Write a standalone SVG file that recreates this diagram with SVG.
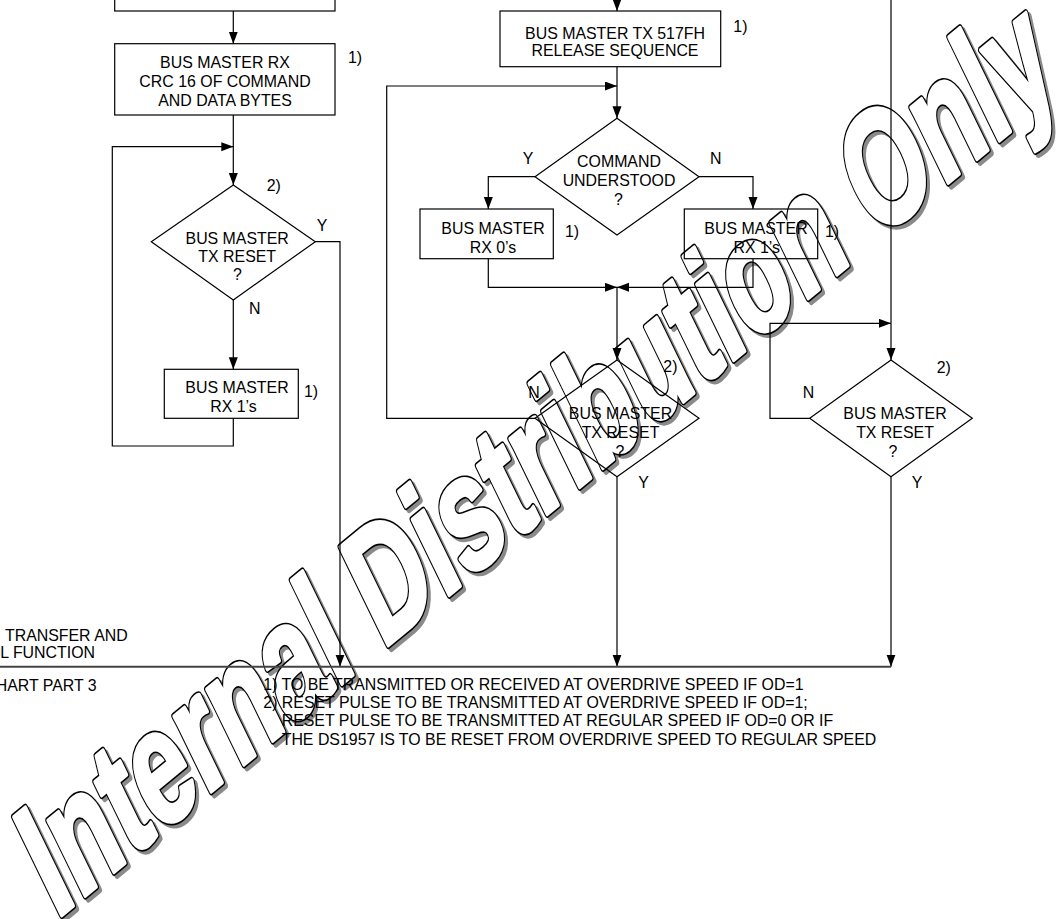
<svg xmlns="http://www.w3.org/2000/svg" width="1062" height="919" viewBox="0 0 1062 919">
<style>
.t{font-family:"Liberation Sans",Arial,sans-serif;font-size:15.9px;fill:#000}
.m{text-anchor:middle}
.e{text-anchor:end}
.s{fill:none;stroke:#000;stroke-width:1.2}
.c{fill:none;stroke:#000;stroke-width:1.2}
.a{marker-end:url(#ah)}
.wm{font-family:"Liberation Sans",Arial,sans-serif;font-weight:bold;font-size:100px;stroke-linejoin:round}
</style>
<defs>
<marker id="ah" markerUnits="userSpaceOnUse" markerWidth="12" markerHeight="10" refX="12" refY="4.5" orient="auto">
<path d="M0,0 L12,4.5 L0,9 z" fill="#000"/>
</marker>
</defs>
<rect width="1062" height="919" fill="#fff"/>
<g id="watermark">
<text class="wm" transform="translate(3,3) matrix(0.8396,-0.6937,0.6938,1.424,55.8,919.9)" fill="#8a8a8a" stroke="#8a8a8a" stroke-width="6.4" vector-effect="non-scaling-stroke">Internal Distribution Only</text>
<text class="wm" transform="matrix(0.8396,-0.6937,0.6938,1.424,55.8,919.9)" fill="#000" stroke="#000" stroke-width="6.4" vector-effect="non-scaling-stroke">Internal Distribution Only</text>
<text class="wm" transform="matrix(0.8396,-0.6937,0.6938,1.424,55.8,919.9)" fill="#fff" stroke="#fff" stroke-width="3.6" vector-effect="non-scaling-stroke">Internal Distribution Only</text>
</g>
<g id="connectors">
<path class="c a" d="M233.3,11 V43.7"/>
<path class="c a" d="M233.3,115 V185"/>
<path class="c a" d="M233.3,418.3 V446 H112.3 V146.7 H233.3"/>
<path class="c a" d="M233.3,300 V369.3"/>
<path class="c a" d="M315.3,241.7 H340 V666.7"/>
<path class="c a" d="M617,-5 V11"/>
<path class="c a" d="M617,66.7 V118.3"/>
<path class="c a" d="M535,418.3 H386.7 V86 H617"/>
<path class="c a" d="M535,176.7 H488.3 V209"/>
<path class="c a" d="M699,176.7 H753 V209"/>
<path class="c a" d="M488.3,258.7 V287.3 H617"/>
<path class="c a" d="M753,258.7 V287.3 H617"/>
<path class="c a" d="M617,287.3 V360"/>
<path class="c a" d="M617,476.7 V666.7"/>
<path class="c a" d="M891,-5 V360"/>
<path class="c a" d="M809.7,418.3 H770 V323.3 H891"/>
<path class="c a" d="M891,476.7 V666.7"/>
<path d="M0,666.7 H891" fill="none" stroke="#444" stroke-width="2"/>
</g>
<g id="box-top-left"><rect class="s" x="114.7" y="-20" width="220.3" height="31"/></g>
<g id="box-crc">
<rect class="s" x="114.7" y="43.7" width="220.3" height="71.3"/>
<text class="t m" x="225" y="68.3">BUS MASTER RX</text>
<text class="t m" x="225" y="87">CRC 16 OF COMMAND</text>
<text class="t m" x="225" y="106">AND DATA BYTES</text>
<text class="t" x="348" y="63.3">1)</text>
</g>
<g id="dec-left">
<polygon class="s" points="233.3,185 315.3,241.7 233.3,300 151.3,241.7"/>
<text class="t m" x="237.2" y="244">BUS MASTER</text>
<text class="t m" x="237.2" y="261.7">TX RESET</text>
<text class="t m" x="237.5" y="280">?</text>
<text class="t" x="266.7" y="190.7">2)</text>
<text class="t" x="316.7" y="230.7">Y</text>
<text class="t" x="249" y="314">N</text>
</g>
<g id="box-rx1-left">
<rect class="s" x="164.3" y="369.3" width="134" height="49"/>
<text class="t m" x="237" y="393.3">BUS MASTER</text>
<text class="t m" x="233.5" y="411.7">RX 1’s</text>
<text class="t" x="304" y="396.7">1)</text>
</g>
<g id="box-release">
<rect class="s" x="500" y="11" width="220.7" height="55.7"/>
<text class="t m" x="615" y="39">BUS MASTER TX 517FH</text>
<text class="t m" x="615" y="55.7">RELEASE SEQUENCE</text>
<text class="t" x="733.3" y="32.3">1)</text>
</g>
<g id="dec-command">
<polygon class="s" points="617,118.3 699,176.7 617,235 535,176.7"/>
<text class="t m" x="619" y="167.3">COMMAND</text>
<text class="t m" x="619" y="185.7">UNDERSTOOD</text>
<text class="t m" x="618.3" y="205">?</text>
<text class="t" x="522.7" y="163.7">Y</text>
<text class="t" x="710" y="163.7">N</text>
</g>
<g id="box-rx0">
<rect class="s" x="420" y="209" width="133.3" height="49.7"/>
<text class="t m" x="493" y="234">BUS MASTER</text>
<text class="t m" x="493" y="252.7">RX 0’s</text>
<text class="t" x="565" y="237">1)</text>
</g>
<g id="box-rx1-mid">
<rect class="s" x="684.3" y="209" width="133.4" height="49.7"/>
<text class="t m" x="756" y="234">BUS MASTER</text>
<text class="t m" x="756.7" y="252.7">RX 1’s</text>
<text class="t" x="825" y="237">1)</text>
</g>
<g id="dec-mid">
<polygon class="s" points="617,360 699,418.3 617,476.7 535,418.3"/>
<text class="t m" x="620.5" y="419.3">BUS MASTER</text>
<text class="t m" x="620.5" y="438.3">TX RESET</text>
<text class="t m" x="620" y="456.7">?</text>
<text class="t" x="663.3" y="371.7">2)</text>
<text class="t" x="528.3" y="398.3">N</text>
<text class="t" x="638.3" y="488.3">Y</text>
</g>
<g id="dec-right">
<polygon class="s" points="891,360 972.3,418.3 891,476.7 809.7,418.3"/>
<text class="t m" x="895" y="419.3">BUS MASTER</text>
<text class="t m" x="895" y="438.3">TX RESET</text>
<text class="t m" x="893" y="456.7">?</text>
<text class="t" x="936.7" y="373">2)</text>
<text class="t" x="802.7" y="398.3">N</text>
<text class="t" x="911.7" y="488.3">Y</text>
</g>
<g id="title">
<text class="t e" x="127.7" y="640.7">TRANSFER AND</text>
<text class="t e" x="95" y="658.3">L FUNCTION</text>
<text class="t e" x="96.7" y="690.7">HART PART 3</text>
</g>
<g id="notes">
<text class="t" x="263.3" y="690">1) TO BE TRANSMITTED OR RECEIVED AT OVERDRIVE SPEED IF OD=1</text>
<text class="t" x="263.3" y="708.3">2) RESET PULSE TO BE TRANSMITTED AT OVERDRIVE SPEED IF OD=1;</text>
<text class="t" x="281.7" y="726.3">RESET PULSE TO BE TRANSMITTED AT REGULAR SPEED IF OD=0 OR IF</text>
<text class="t" x="281.7" y="745">THE DS1957 IS TO BE RESET FROM OVERDRIVE SPEED TO REGULAR SPEED</text>
</g>
</svg>
